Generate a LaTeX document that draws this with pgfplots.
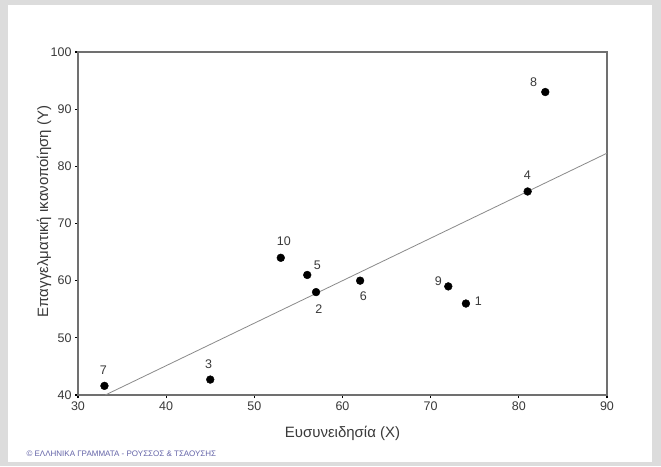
\documentclass[border=0pt]{standalone}
\usepackage{pgfplots}
\pgfplotsset{compat=1.18}
\usepackage{fontspec}
\setmainfont{Liberation Sans}

\definecolor{bggray}{HTML}{DCDCDC}
\definecolor{framegray}{HTML}{707070}
\definecolor{linegray}{HTML}{8A8A8A}
\definecolor{txtgray}{HTML}{3A3A3A}
\definecolor{copyblue}{HTML}{6464A8}

% x, y, case label, label offset (pt)
\pgfplotstableread{
x   y     lab dx    dy
74  56    1   12.4  2.3
57  58    2   2.7   -16.7
45  42.7  3   -1.7  15.3
81  75.6  4   -0.3  16
56  61    5   10    9.7
62  60    6   3.3   -16
33  41.6  7   -1    15.7
83  93    8   -11.7 9.7
72  59    9   -10   4.7
53  64    10  3     16.3
}\cases

\begin{document}
\begin{tikzpicture}
\path[use as bounding box, fill=bggray] (0pt,0pt) rectangle (661pt,466pt);
\fill[white] (8pt,4pt) rectangle (652pt,461pt);
\begin{axis}[
    at={(78pt,71pt)}, anchor=south west,
    scale only axis,
    width=529pt, height=343pt,
    xmin=30, xmax=90, ymin=40, ymax=100,
    xtick={30,40,...,90},
    ytick={40,50,...,100},
    tick pos=left,
    tick align=outside,
    major tick length=3pt,
    tick style={black, line width=1.3pt},
    axis line style={draw=framegray, line width=1.3pt},
    ticklabel style={font=\fontsize{12.5}{14}\selectfont, text=txtgray},
    /pgf/number format/assume math mode=true,
    xlabel={Ευσυνειδησία (X)},
    ylabel={Επαγγελματική ικανοποίηση (Y)},
    every axis x label/.style={at={(axis description cs:0.5,0)}, anchor=base, yshift=-42pt,
        font=\fontsize{15}{18}\selectfont, text=txtgray},
    every axis y label/.style={at={(axis description cs:0,0.5)}, xshift=-30pt, yshift=12pt,
        rotate=90, anchor=base, font=\fontsize{15}{18}\selectfont, text=txtgray},
]
\addplot[no markers, color=linegray, line width=0.8pt] coordinates {(33.1,40) (90,82.3)};
\addplot[only marks, mark=*, mark size=3.9pt, mark options={fill=black, draw=black},
    point meta=explicit symbolic,
    nodes near coords,
    visualization depends on={\thisrow{dx}\as\dx},
    visualization depends on={\thisrow{dy}\as\dy},
    nodes near coords style={anchor=center, xshift=\dx, yshift=\dy,
        font=\fontsize{12.5}{14}\selectfont, text=txtgray},
] table[x=x, y=y, meta=lab] {\cases};
\end{axis}
\node[anchor=west, text=copyblue, font=\fontsize{8}{9}\selectfont] at (23pt,12pt)
    {© ΕΛΛΗΝΙΚΑ ΓΡΑΜΜΑΤΑ - ΡΟΥΣΣΟΣ \& ΤΣΑΟΥΣΗΣ};
\end{tikzpicture}
\end{document}
